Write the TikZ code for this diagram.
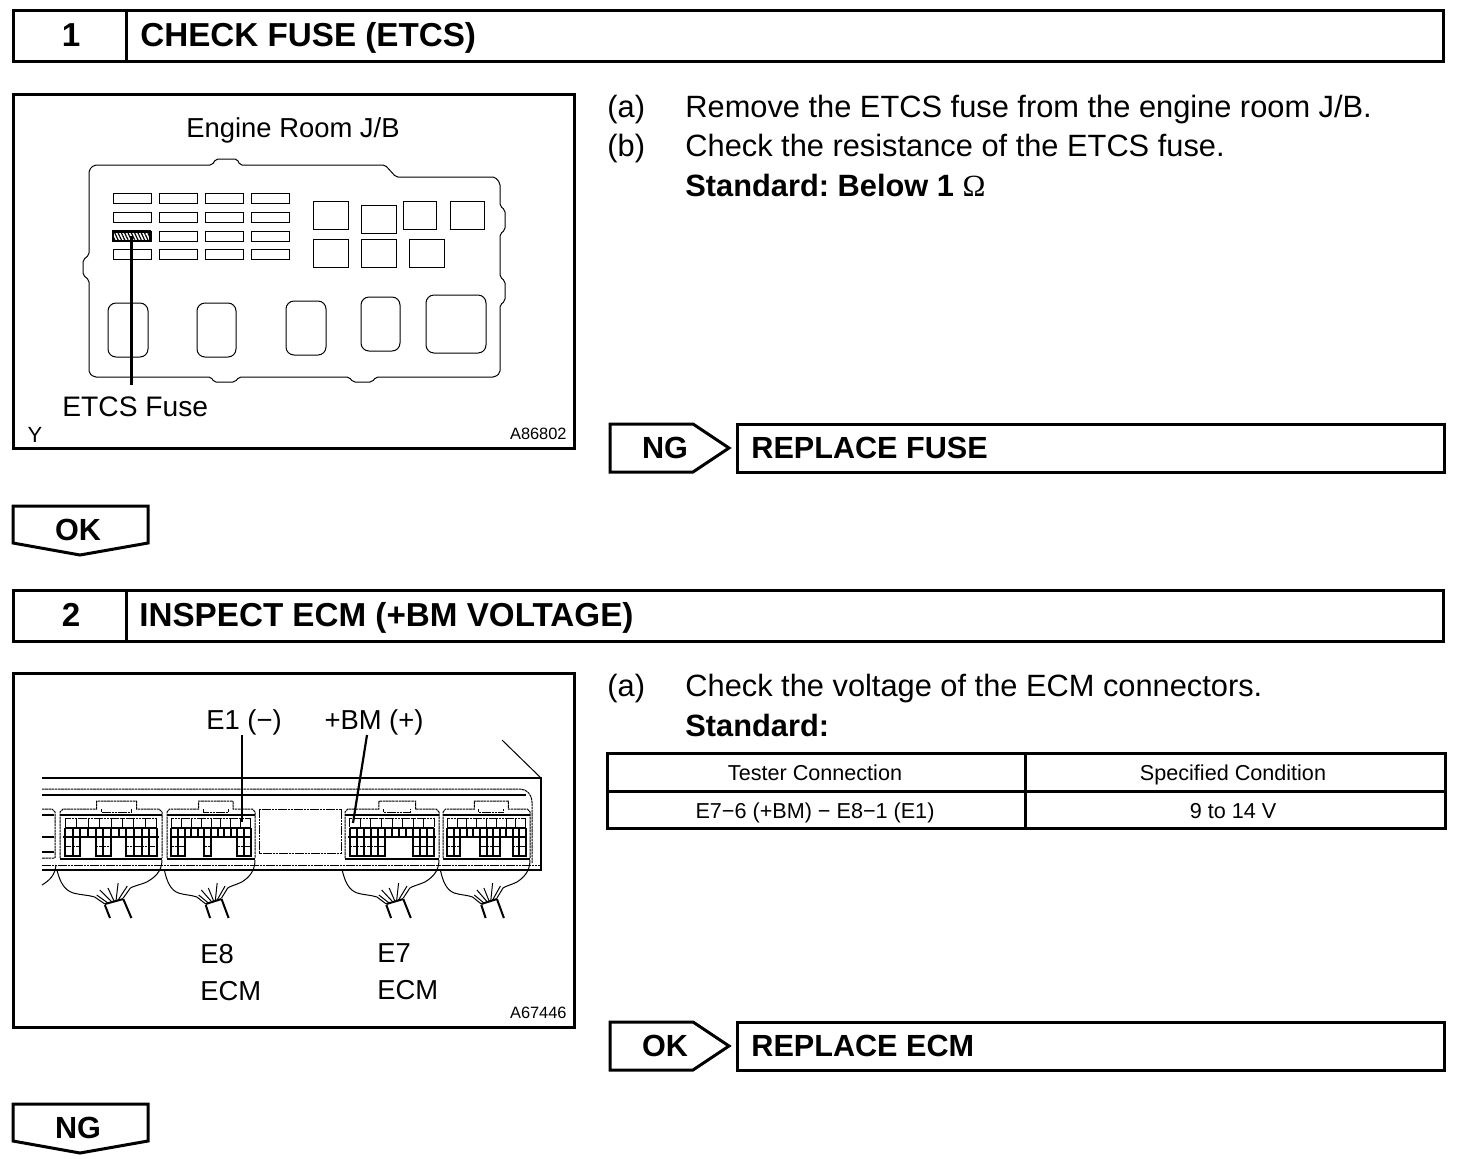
\documentclass[tikz,border=0pt]{standalone}
\usepackage{fontspec}
\setmainfont{Liberation Sans}
\newfontfamily\omegafont{Liberation Serif}
\usetikzlibrary{patterns.meta}
\newcommand{\sized}[1]{\fontsize{#1}{#1}\selectfont}

\begin{document}
\frenchspacing
\begin{tikzpicture}[
    x=0.5pt, y=-0.5pt,
    frame/.style={line width=1.5pt, line join=miter},
    fine/.style={line width=0.5pt},
    heavy/.style={line width=1pt},
    dith/.style={line width=0.5pt, dash pattern=on 1.3pt off 0.3pt},
    leader/.style={line width=1.1pt},
    title/.style={font=\sized{16.6}\bfseries, anchor=base west, inner sep=0pt},
    stepnum/.style={font=\sized{16.6}\bfseries, anchor=base, inner sep=0pt},
    body/.style={font=\sized{15.4}, anchor=base west, inner sep=0pt},
    bodybold/.style={font=\sized{15.4}\bfseries, anchor=base west, inner sep=0pt},
    verdict/.style={font=\sized{15.3}\bfseries, anchor=base, inner sep=0pt},
    action/.style={font=\sized{15.3}\bfseries, anchor=base west, inner sep=0pt},
    callout/.style={font=\sized{13.7}, anchor=base west, inner sep=0pt},
    code/.style={font=\sized{8.2}, anchor=base east, inner sep=0pt},
    cell/.style={font=\sized{10.8}, anchor=base, inner sep=0pt},
    fusecell/.style={draw, line width=1.1pt, inner sep=0pt, minimum width=18.5pt, minimum height=4.6pt,
        pattern={Lines[angle=-65, distance=1.5pt, line width=0.6pt]}},
    pics/ecmconn/.style={code={
        % body
        \draw[dith] (0,58) -- (0,12) -- (3,9) -- (36,9) -- (36,1) -- (75,1) -- (75,9) -- (97,9) -- (100,12) -- (100,58);
        \draw[dith] (41,9) -- (41,12) -- (70,12) -- (70,9);
        \draw[heavy] (0,15) -- (100,15);
        \draw[heavy] (0,59) -- (100,59);
        % top row
        \draw[dith] (5,18) -- (95,18);
        \foreach \c in {0,...,8} {\draw[dith] (5+11.25*\c,18) -- (5+11.25*\c,27);}
        % middle row
        \draw[heavy] (5,28) -- (95,28);
        \draw[heavy] (3,37) -- (97,37);
        \foreach \c in {0,...,12} {\draw[heavy] (5+7.5*\c,28) -- (5+7.5*\c,37);}
        % bottom row
        \foreach \c in \cells {
            \draw[heavy] (5+7.5*\c,37) -- (5+7.5*\c,56) -- (12.5+7.5*\c,56) -- (12.5+7.5*\c,37);
            \draw[dith] (5+7.5*\c,46) -- (12.5+7.5*\c,46);
        }
        % wires
        \draw[fine] (-3,70) .. controls (0,82) and (4,90) .. (13,93) .. controls (20,95) and (28,95) .. (34,97) -- (44,104);
        \draw[fine] (100,60) .. controls (100,72) and (92,78) .. (85,82) .. controls (78,85) and (72,86) .. (69,88) -- (62,98);
        \draw[heavy] (44,104) -- (62,99);
        \draw[heavy] (44,105) -- (49,118);
        \draw[heavy] (62,99) -- (70,118);
        \foreach \ax/\ay/\bx/\by in {36/95/47/103,39/90/51/102,47/88/53/101,57/83/55/100,66/86/57/100} {
            \draw[fine] (\ax,\ay) -- (\bx,\by);
        }
    }}
]
\useasboundingbox (0,0) rectangle (1472,1158);

% Step 1 header
\draw[frame] (13,10) rectangle (1443,61);
\draw[frame] (126,10) -- (126,61);
\node[stepnum] (num1) at (71,46) {1};
\node[title] (head1) at (140,46) {CHECK FUSE (ETCS)};

% Step 1 figure
\draw[frame] (13,94) rectangle (574,448);
\node[callout, anchor=base] (jbname) at (293,137) {Engine Room J/B};
\draw[fine, rounded corners=1pt] (89,170) -- (94,165) -- (212,165) -- (216,159) -- (237,159) -- (240,165)
    -- (385,165) -- (396,177) -- (495,177) -- (500,183) -- (500,206) -- (505,210) -- (505,230) -- (500,234)
    -- (500,277) -- (505,281) -- (505,301) -- (500,305) -- (500,373) -- (495,377) -- (376,377) -- (372,382)
    -- (353,382) -- (349,377) -- (239,377) -- (235,382) -- (214,382) -- (211,377) -- (94,377) -- (89,373)
    -- (89,280) -- (83,275) -- (83,260) -- (89,255) -- cycle;
% fuses
\foreach \yt in {193,212,231,249} {
    \foreach \xl in {113,159,205,251} {
        \draw[fine] (\xl,\yt) rectangle ++(38,10);
    }
}
\node[fusecell] (etcsfuse) at (131.5,236) {};
% relays
\foreach \xa/\ya/\xb/\yb in {313/201/348/229,361/205/396/233,403/201/436/229,450/201/484/229,
                             313/239/348/267,361/239/396/267,409/239/444/267} {
    \draw[fine] (\xa,\ya) rectangle (\xb,\yb);
}
\foreach \xa/\ya/\xb/\yb in {108/303/148/357,197/303/236/357,286/301/326/355,361/297/400/351,426/295/486/353} {
    \draw[fine, rounded corners=4pt] (\xa,\ya) rectangle (\xb,\yb);
}
\node[callout, font=\sized{14.1}] (etcslabel) at (62,416) {ETCS Fuse};
\coordinate (fuseend) at (131.5,385);
\draw[leader] (etcsfuse.center) -- (fuseend);
\node[font=\sized{11}, anchor=base, inner sep=0pt] (ymark) at (35,442) {Y};
\node[code] (code1) at (567,439) {A86802};

% Step 1 instructions
\node[body] (a1) at (607,117) {(a)};
\node[body] (a1text) at (685,117) {Remove the ETCS fuse from the engine room J/B.};
\node[body] (b1) at (607,156) {(b)};
\node[body] (b1text) at (685,156) {Check the resistance of the ETCS fuse.};
\node[bodybold] (std1) at (685,196) {Standard: Below 1 {\omegafont\mdseries Ω}};

% Step 1 results
\draw[frame] (610,424) -- (693,424) -- (729,448) -- (693,472) -- (610,472) -- cycle;
\node[verdict] (ng1) at (665,458) {NG};
\draw[frame] (737,424) rectangle (1444,472);
\node[action] (act1) at (751,458) {REPLACE FUSE};
\draw[frame] (13,506) -- (148,506) -- (148,543) -- (80,555) -- (13,543) -- cycle;
\node[verdict] (ok1) at (78,540) {OK};

% Step 2 header
\draw[frame] (13,590) rectangle (1443,641);
\draw[frame] (126,590) -- (126,641);
\node[stepnum] (num2) at (71,626) {2};
\node[title] (head2) at (139,626) {INSPECT ECM (+BM VOLTAGE)};

% Step 2 figure
\draw[frame] (13,673) rectangle (574,1027);
\draw[heavy] (42,778) -- (541,778) -- (541,870) -- (42,870);
\draw[fine] (502,740) -- (541,778);
\draw[dith] (42,789) -- (520,789) .. controls (527,789) and (532,795) .. (532,802) -- (532,863);
\draw[heavy] (42,795) -- (526,795);
\draw[dith] (42,865) -- (541,865);
\draw[dith] (259,809) rectangle (341,853);
% left stub
\draw[dith] (42,809) -- (52,809) -- (55,812) -- (55,858) -- (42,858);
\draw[heavy] (42,815) -- (54,815);
\draw[heavy] (42,852) -- (54,852);
\draw[heavy] (42,837) -- (54,837);
\draw[fine] (42,885) .. controls (50,880) and (55,875) .. (56,865);
% connectors
\foreach \xa/\sc/\cells in {60/1.02/{0,1,4,5,8,9,10,11},167/0.88/{0,1,5,10,11},
                            345/0.94/{0,1,2,3,4,9,10,11},443/0.87/{0,1,5,6,7,10,11}} {
    \pic[xscale=\sc] at (\xa,800) {ecmconn};
}
\node[callout, anchor=base] (e1label) at (244,729) {E1 (−)};
\node[callout, anchor=base] (bmlabel) at (374,729) {+BM (+)};
\coordinate (e1pin) at (242,822);
\coordinate (e1top) at (242,735);
\coordinate (bmpin) at (353,823);
\coordinate (bmtop) at (367,735);
\draw[leader] (e1top) -- (e1pin);
\draw[leader] (bmtop) -- (bmpin);
\node[callout] (e8) at (200,963) {E8};
\node[callout] (e8ecm) at (200,1000) {ECM};
\node[callout] (e7) at (377,962) {E7};
\node[callout] (e7ecm) at (377,999) {ECM};
\node[code] (code2) at (567,1018) {A67446};

% Step 2 instructions
\node[body] (a2) at (607,696) {(a)};
\node[body] (a2text) at (685,696) {Check the voltage of the ECM connectors.};
\node[bodybold] (std2) at (685,736) {Standard:};

% Step 2 table
\draw[frame] (607,753) rectangle (1445,828);
\draw[frame] (607,791) -- (1445,791);
\draw[frame] (1025,753) -- (1025,828);
\node[cell] (cellh1) at (815,780) {Tester Connection};
\node[cell] (cellh2) at (1233,780) {Specified Condition};
\node[cell] (cellv1) at (815,818) {E7−6 (+BM) − E8−1 (E1)};
\node[cell] (cellv2) at (1233,818) {9 to 14 V};

% Step 2 results
\draw[frame] (610,1022) -- (693,1022) -- (729,1046) -- (693,1070) -- (610,1070) -- cycle;
\node[verdict] (ok2) at (665,1056) {OK};
\draw[frame] (737,1022) rectangle (1444,1070);
\node[action] (act2) at (751,1056) {REPLACE ECM};
\draw[frame] (13,1104) -- (148,1104) -- (148,1141) -- (80,1153) -- (13,1141) -- cycle;
\node[verdict] (ng2) at (78,1138) {NG};

\end{tikzpicture}
\end{document}
